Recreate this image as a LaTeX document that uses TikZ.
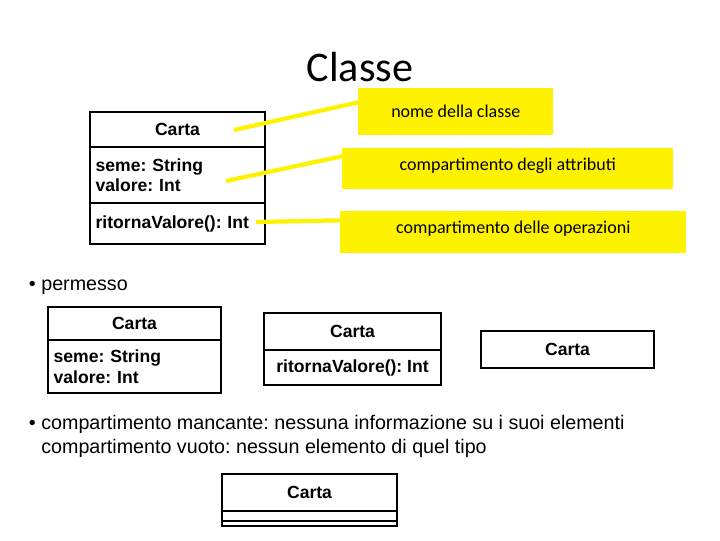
\documentclass[tikz,border=0pt]{standalone}
\usepackage{fontspec}
\setmainfont{Liberation Sans}
\newfontfamily\notefont{Carlito}
\usetikzlibrary{positioning}
\frenchspacing

\begin{document}
\begin{tikzpicture}[
      x=0.025cm, y=-0.025cm,
      every node/.style={font=\fontsize{14}{17}\selectfont},
      comp/.style={draw, line width=2pt, outer sep=0pt, inner xsep=4pt, inner ysep=0pt,
        font=\bfseries\fontsize{12.5}{14.5}\selectfont},
      attr/.style={comp, align=left, text width=#1},
      note/.style={fill=yellow, anchor=north west, inner sep=0pt, font=\notefont\fontsize{12.8}{15}\selectfont},
      link/.style={yellow, line width=3pt},
    ]
    \useasboundingbox (0,0) rectangle (720,540);

    % Title
    \node[font=\notefont\fontsize{30}{36}\selectfont] (title) at (360,67) {Classe};

    % Class with its three compartments
    \node[comp, anchor=north west, minimum width=4.375cm, minimum height=0.875cm, text depth=0pt] (name) at (90,112) {Carta};
    \node[attr=4.093cm, below=0pt of name, minimum height=1.4cm] (attrs) {seme: String\\valore: Int};
    \node[attr=4.093cm, below=0pt of attrs, minimum height=1.025cm] (ops) {ritornaValore(): Int};

    % Yellow notes
    \node[note, minimum width=4.875cm, minimum height=1.175cm] (n-name) at (358,88) {nome della classe};
    \node[note, minimum width=8.275cm, minimum height=1.025cm, text depth=7pt] (n-attrs) at (342,148) {compartimento degli attributi};
    \node[note, minimum width=8.65cm, minimum height=1.05cm, text depth=7.5pt] (n-ops) at (340,211) {compartimento delle operazioni};

    \coordinate (p-name) at (234,130);
    \coordinate (p-attrs) at (226,181);
    \coordinate (p-ops) at (256,222);
    \draw[link] (p-name) -- ([yshift=6.7pt]n-name.west);
    \draw[link] (p-attrs) -- ([yshift=8.9pt]n-attrs.west);
    \draw[link] (p-ops) -- ([yshift=8.5pt]n-ops.west);

    % Bullet 1
    \node[anchor=west] (permesso) at (24,287) {• permesso};

    \node[comp, anchor=north west, minimum width=4.325cm, minimum height=0.825cm] (a-name) at (48,307) {Carta};
    \node[attr=4.043cm, below=0pt of a-name, minimum height=1.325cm] (a-attrs) {seme: String\\valore: Int};

    \node[comp, anchor=north west, minimum width=4.425cm, minimum height=0.925cm] (b-name) at (264,313) {Carta};
    \node[comp, below=0pt of b-name, minimum width=4.425cm, minimum height=0.875cm] (b-ops) {ritornaValore(): Int};

    \node[comp, anchor=north west, minimum width=4.325cm, minimum height=0.925cm] (c-name) at (481,331) {Carta};

    % Bullet 2
    \node[anchor=north west, align=left] (mancante) at (24,410)
      {• compartimento mancante: nessuna informazione su i suoi elementi\\
       \phantom{• }compartimento vuoto: nessun elemento di quel tipo};

    % Class with empty compartments
    \node[comp, anchor=north west, minimum width=4.375cm, minimum height=0.925cm] (d-name) at (222,474) {Carta};
    \node[comp, below=0pt of d-name, minimum width=4.375cm, minimum height=0.25cm] (d-attrs) {};
    \node[comp, below=0pt of d-attrs, minimum width=4.375cm, minimum height=0.125cm] (d-ops) {};
\end{tikzpicture}
\end{document}
